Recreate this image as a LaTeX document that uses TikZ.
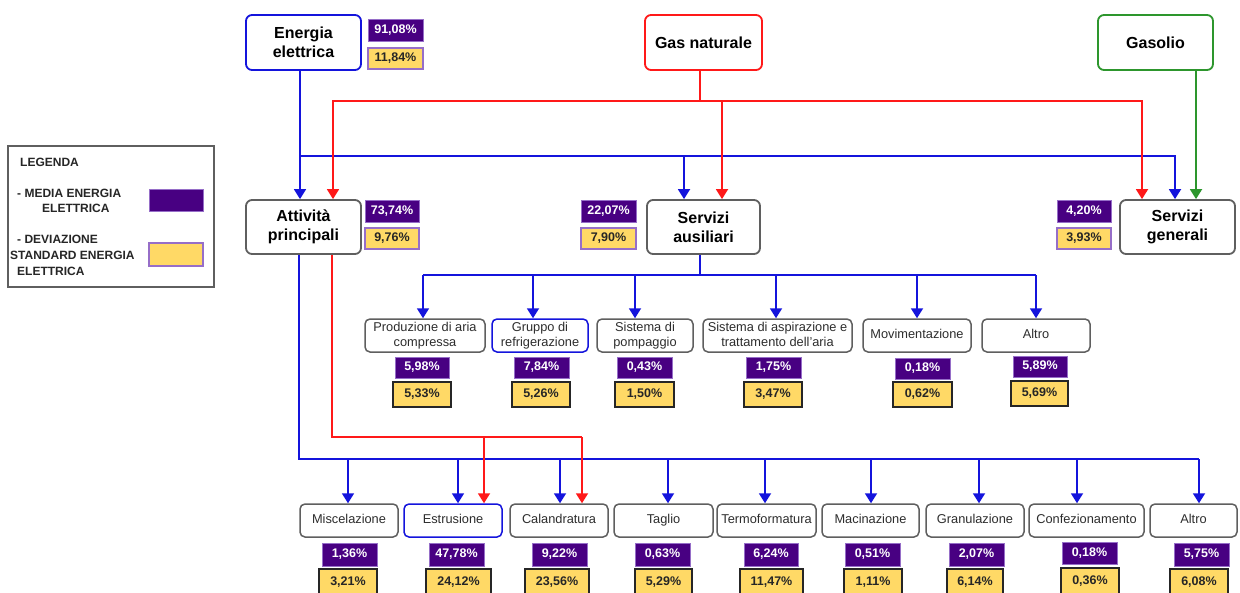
\documentclass[tikz,border=0pt]{standalone}
\usepackage{fontspec}
\setmainfont{Liberation Sans}
\usetikzlibrary{arrows.meta}
\definecolor{cblue}{RGB}{20,20,220}
\definecolor{cred}{RGB}{255,25,25}
\definecolor{cgreen}{RGB}{45,150,45}
\definecolor{cgray}{RGB}{95,95,95}
\definecolor{cpurple}{RGB}{72,0,130}
\definecolor{cpborder}{RGB}{150,110,200}
\definecolor{cyellow}{RGB}{255,217,102}
\definecolor{ctext}{RGB}{45,45,45}
\begin{document}
\begin{tikzpicture}[x=1pt,y=-1pt,
 mainbox/.style={draw=cgray, line width=1.8pt, rounded corners=6pt, fill=white, align=center, inner sep=1pt, text=black, font=\fontsize{16}{19}\selectfont\bfseries},
 subbox/.style={draw=cgray, line width=1.5pt, rounded corners=5pt, fill=white, align=center, inner sep=1pt, minimum height=33pt, text=ctext, font=\fontsize{12.8}{15}\selectfont, execute at begin node={\vphantom{Alg}}, execute at end node={\vphantom{Alg}}},
 pbox/.style={fill=cpurple, draw=cpborder, line width=0.8pt, text=white, inner sep=0pt, minimum width=55pt, minimum height=22pt, font=\fontsize{12.5}{14}\selectfont\bfseries},
 ybox/.style={fill=cyellow, draw=cpborder, line width=1.2pt, text=black!85, inner sep=0pt, minimum width=55pt, minimum height=21pt, font=\fontsize{12.5}{14}\selectfont\bfseries},
 ybtm/.style={fill=cyellow, draw=black!85, line width=1.6pt, text=black!85, inner sep=0pt, minimum width=58pt, minimum height=25pt, font=\fontsize{12.5}{14}\selectfont\bfseries},
 legtext/.style={anchor=base west, inner sep=0pt, text=black!85, font=\fontsize{12}{14}\selectfont\bfseries},
 bline/.style={draw=cblue, line width=1.8pt},
 rline/.style={draw=cred, line width=1.8pt},
 gline/.style={draw=cgreen, line width=1.8pt},
 arr/.style={-{Triangle[width=12pt,length=10pt]}},
]
\fill[white] (0,0) rectangle (1240,592);
\useasboundingbox (0,0) rectangle (1240,592);

% legend
\node[draw=cgray, line width=1.3pt, minimum width=206pt, minimum height=141pt, inner sep=0pt] (leg) at (111,216.5) {};
\node[legtext] (l1) at (20,166) {LEGENDA};
\node[legtext] (l2) at (17,197) {- MEDIA ENERGIA};
\node[legtext] (l3) at (42,212) {ELETTRICA};
\node[legtext] (l4) at (17,243) {- DEVIAZIONE};
\node[legtext] (l5) at (10,259) {STANDARD ENERGIA};
\node[legtext] (l6) at (17,275) {ELETTRICA};
\node[pbox, minimum width=54pt, minimum height=22pt] (lp) at (176,200) {};
\node[ybox, minimum width=54pt, minimum height=23pt] (ly) at (176,254.5) {};

% main boxes
\node[mainbox, draw=cblue, minimum width=115pt, minimum height=55pt] (ee) at (303.5,42.5) {Energia\\elettrica};
\node[mainbox, draw=cred, minimum width=117pt, minimum height=55pt] (gn) at (703.5,42.5) {Gas naturale};
\node[mainbox, draw=cgreen, minimum width=115pt, minimum height=55pt] (gasolio) at (1155.5,42.5) {Gasolio};
\node[mainbox, minimum width=115pt, minimum height=54pt] (ap) at (303.5,227) {Attività\\principali};
\node[mainbox, minimum width=113pt, minimum height=54pt] (sa) at (703.5,227) {Servizi\\ausiliari};
\node[mainbox, minimum width=115pt, minimum height=54pt] (sg) at (1177.5,227) {Servizi\\generali};

\node[pbox] (pee) at (395.5,30) {91,08\%};
\node[ybox] (yee) at (395.5,58.5) {11,84\%};
\node[pbox, minimum width=54pt] (pap) at (392,211) {73,74\%};
\node[ybox, minimum width=54pt] (yap) at (392,238.5) {9,76\%};
\node[pbox] (psa) at (608.5,211) {22,07\%};
\node[ybox] (ysa) at (608.5,238.5) {7,90\%};
\node[pbox, minimum width=54pt] (psg) at (1084,211) {4,20\%};
\node[ybox, minimum width=54pt] (ysg) at (1084,238.5) {3,93\%};

% servizi ausiliari children
\node[subbox, minimum width=120pt] (s1) at (425,335.5) {Produzione di aria\\compressa};
\node[subbox, draw=cblue, minimum width=96pt] (s2) at (540,335.5) {Gruppo di\\refrigerazione};
\node[subbox, minimum width=96pt] (s3) at (645,335.5) {Sistema di\\pompaggio};
\node[subbox, minimum width=149pt] (s4) at (777.5,335.5) {Sistema di aspirazione e\\trattamento dell'aria};
\node[subbox, minimum width=108pt] (s5) at (917,335.5) {Movimentazione};
\node[subbox, minimum width=108pt] (s6) at (1036,335.5) {Altro};

\node[pbox, minimum width=54pt, minimum height=21pt] (ps1) at (422,367.5) {5,98\%};
\node[ybtm] (ys1) at (422,394.5) {5,33\%};
\node[pbox, minimum height=21pt] (ps2) at (541.5,367.5) {7,84\%};
\node[ybtm] (ys2) at (541,394.5) {5,26\%};
\node[pbox, minimum height=21pt] (ps3) at (644.5,367.5) {0,43\%};
\node[ybtm, minimum width=59pt] (ys3) at (644.5,394.5) {1,50\%};
\node[pbox, minimum height=21pt] (ps4) at (773.5,367.5) {1,75\%};
\node[ybtm] (ys4) at (773,394.5) {3,47\%};
\node[pbox, minimum height=21pt] (ps5) at (922.5,368.5) {0,18\%};
\node[ybtm, minimum width=59pt] (ys5) at (922.5,394.5) {0,62\%};
\node[pbox, minimum width=54pt, minimum height=21pt] (ps6) at (1040,366.5) {5,89\%};
\node[ybtm, minimum width=57pt] (ys6) at (1039.5,393.5) {5,69\%};

% attivita principali children
\node[subbox, minimum width=98pt] (b1) at (349,520.5) {Miscelazione};
\node[subbox, draw=cblue, minimum width=98pt] (b2) at (453,520.5) {Estrusione};
\node[subbox, minimum width=98pt] (b3) at (559,520.5) {Calandratura};
\node[subbox, minimum width=99pt] (b4) at (663.5,520.5) {Taglio};
\node[subbox, minimum width=99pt] (b5) at (766.5,520.5) {Termoformatura};
\node[subbox, minimum width=97pt] (b6) at (870.5,520.5) {Macinazione};
\node[subbox, minimum width=98pt] (b7) at (975,520.5) {Granulazione};
\node[subbox, minimum width=115pt] (b8) at (1086.5,520.5) {Confezionamento};
\node[subbox, minimum width=87pt] (b9) at (1193.5,520.5) {Altro};

\node[pbox, minimum height=23pt] (pb1) at (349.5,554.5) {1,36\%};
\node[ybtm, minimum height=27pt] (yb1) at (348,582.5) {3,21\%};
\node[pbox, minimum height=23pt] (pb2) at (456.5,554.5) {47,78\%};
\node[ybtm, minimum width=65pt, minimum height=27pt] (yb2) at (458.5,582.5) {24,12\%};
\node[pbox, minimum height=23pt] (pb3) at (559.5,554.5) {9,22\%};
\node[ybtm, minimum width=64pt, minimum height=27pt] (yb3) at (557,582.5) {23,56\%};
\node[pbox, minimum height=23pt] (pb4) at (662.5,554.5) {0,63\%};
\node[ybtm, minimum width=57pt, minimum height=27pt] (yb4) at (663.5,582.5) {5,29\%};
\node[pbox, minimum width=54pt, minimum height=23pt] (pb5) at (771,554.5) {6,24\%};
\node[ybtm, minimum width=63pt, minimum height=27pt] (yb5) at (771.5,582.5) {11,47\%};
\node[pbox, minimum height=23pt] (pb6) at (872.5,554.5) {0,51\%};
\node[ybtm, minimum height=27pt] (yb6) at (873,582.5) {1,11\%};
\node[pbox, minimum height=23pt] (pb7) at (976.5,554.5) {2,07\%};
\node[ybtm, minimum width=56pt, minimum height=27pt] (yb7) at (975,582.5) {6,14\%};
\node[pbox, minimum height=22pt] (pb8) at (1089.5,553) {0,18\%};
\node[ybtm, minimum height=27pt] (yb8) at (1090,581.5) {0,36\%};
\node[pbox, minimum height=23pt] (pb9) at (1201.5,554.5) {5,75\%};
\node[ybtm, minimum height=27pt] (yb9) at (1199,582.5) {6,08\%};

% bus coordinates
\coordinate (bbus) at (0,156);
\coordinate (rbus) at (0,101);
\coordinate (sbus) at (0,275);
\coordinate (pbus) at (0,459);
\coordinate (qbus) at (0,437);

% blue from energia elettrica
\draw[bline,arr] ([xshift=-3.5pt]ee.south) -- ([xshift=-3.5pt]ap.north);
\draw[bline,arr] ([xshift=-3.5pt]ee.south |- bbus) -| ([xshift=-2.5pt]sg.north);
\draw[bline,arr] ([xshift=-19.5pt]sa.north |- bbus) -- ([xshift=-19.5pt]sa.north);

% red from gas naturale
\draw[draw=cred, line width=2pt] ([xshift=-3.5pt]gn.south) -- ([xshift=-3.5pt]gn.south |- rbus);
\draw[rline,arr] ([xshift=-3.5pt]gn.south |- rbus) -| ([xshift=29.5pt]ap.north);
\draw[rline,arr] ([xshift=-3.5pt]gn.south |- rbus) -| ([xshift=-35.5pt]sg.north);
\draw[rline,arr] ([xshift=18.5pt]sa.north |- rbus) -- ([xshift=18.5pt]sa.north);

% green from gasolio
\draw[gline,arr] ([xshift=40.5pt]gasolio.south) -- ([xshift=18.5pt]sg.north);

% servizi ausiliari tree
\draw[bline] ([xshift=-3.5pt]sa.south) -- ([xshift=-3.5pt]sa.south |- sbus);
\draw[bline] ([xshift=-2pt]s1.north |- sbus) -- (s6.north |- sbus);
\foreach \n/\s in {s1/-2,s2/-7,s3/-10,s4/-1.5,s5/0,s6/0}
  \draw[bline,arr] ([xshift=\s pt]\n.north |- sbus) -- ([xshift=\s pt]\n.north);

% attivita principali tree
\draw[bline] ([xshift=-4.5pt]ap.south) |- ([xshift=5.5pt]b9.north |- pbus);
\foreach \n/\s in {b1/-1,b2/5,b3/1,b4/4.5,b5/-1.5,b6/0.5,b7/4,b8/-9.5,b9/5.5}
  \draw[bline,arr] ([xshift=\s pt]\n.north |- pbus) -- ([xshift=\s pt]\n.north);
\draw[rline] ([xshift=28.5pt]ap.south) |- ([xshift=23pt]b3.north |- qbus);
\draw[rline,arr] ([xshift=31pt]b2.north |- qbus) -- ([xshift=31pt]b2.north);
\draw[rline,arr] ([xshift=23pt]b3.north |- qbus) -- ([xshift=23pt]b3.north);
\end{tikzpicture}
\end{document}
